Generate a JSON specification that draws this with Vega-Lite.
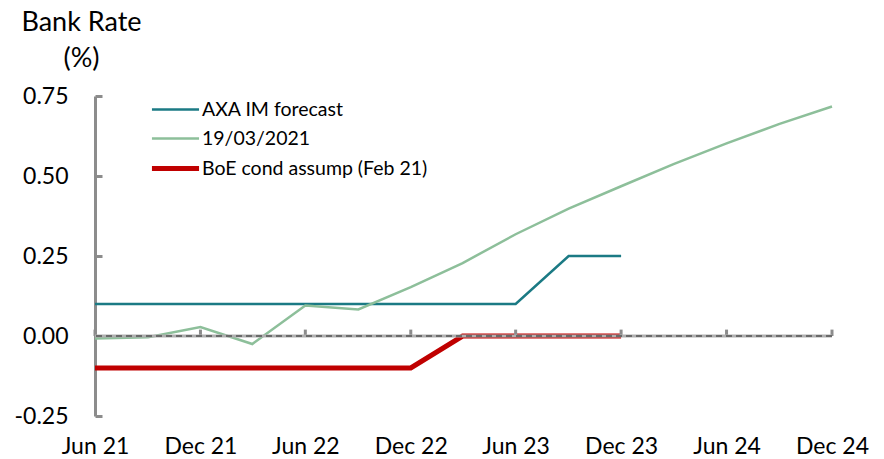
{
  "$schema": "https://vega.github.io/schema/vega-lite/v6.json",
  "width": 737,
  "height": 320,
  "autosize": "none",
  "padding": {"left": 95, "top": 96, "right": 52, "bottom": 43},
  "config": {"view": {"stroke": null}, "font": "Lato"},
  "datasets": {
    "series": [
      {"date": "2021-06-01", "series": "AXA IM forecast", "value": 0.10},
      {"date": "2021-09-01", "series": "AXA IM forecast", "value": 0.10},
      {"date": "2021-12-01", "series": "AXA IM forecast", "value": 0.10},
      {"date": "2022-03-01", "series": "AXA IM forecast", "value": 0.10},
      {"date": "2022-06-01", "series": "AXA IM forecast", "value": 0.10},
      {"date": "2022-09-01", "series": "AXA IM forecast", "value": 0.10},
      {"date": "2022-12-01", "series": "AXA IM forecast", "value": 0.10},
      {"date": "2023-03-01", "series": "AXA IM forecast", "value": 0.10},
      {"date": "2023-06-01", "series": "AXA IM forecast", "value": 0.10},
      {"date": "2023-09-01", "series": "AXA IM forecast", "value": 0.25},
      {"date": "2023-12-01", "series": "AXA IM forecast", "value": 0.25},
      {"date": "2021-06-01", "series": "19/03/2021", "value": -0.008},
      {"date": "2021-09-01", "series": "19/03/2021", "value": -0.004},
      {"date": "2021-12-01", "series": "19/03/2021", "value": 0.028},
      {"date": "2022-03-01", "series": "19/03/2021", "value": -0.025},
      {"date": "2022-06-01", "series": "19/03/2021", "value": 0.095},
      {"date": "2022-09-01", "series": "19/03/2021", "value": 0.083},
      {"date": "2022-12-01", "series": "19/03/2021", "value": 0.153},
      {"date": "2023-03-01", "series": "19/03/2021", "value": 0.228},
      {"date": "2023-06-01", "series": "19/03/2021", "value": 0.318},
      {"date": "2023-09-01", "series": "19/03/2021", "value": 0.398},
      {"date": "2023-12-01", "series": "19/03/2021", "value": 0.468},
      {"date": "2024-03-01", "series": "19/03/2021", "value": 0.537},
      {"date": "2024-06-01", "series": "19/03/2021", "value": 0.602},
      {"date": "2024-09-01", "series": "19/03/2021", "value": 0.663},
      {"date": "2024-12-01", "series": "19/03/2021", "value": 0.717},
      {"date": "2021-06-01", "series": "BoE cond assump (Feb 21)", "value": -0.10},
      {"date": "2021-09-01", "series": "BoE cond assump (Feb 21)", "value": -0.10},
      {"date": "2021-12-01", "series": "BoE cond assump (Feb 21)", "value": -0.10},
      {"date": "2022-03-01", "series": "BoE cond assump (Feb 21)", "value": -0.10},
      {"date": "2022-06-01", "series": "BoE cond assump (Feb 21)", "value": -0.10},
      {"date": "2022-09-01", "series": "BoE cond assump (Feb 21)", "value": -0.10},
      {"date": "2022-12-01", "series": "BoE cond assump (Feb 21)", "value": -0.10},
      {"date": "2023-03-01", "series": "BoE cond assump (Feb 21)", "value": 0.0},
      {"date": "2023-06-01", "series": "BoE cond assump (Feb 21)", "value": 0.0},
      {"date": "2023-09-01", "series": "BoE cond assump (Feb 21)", "value": 0.0},
      {"date": "2023-12-01", "series": "BoE cond assump (Feb 21)", "value": 0.0}
    ],
    "ticks": [
      {"date": "2021-06-01"}, {"date": "2021-12-01"}, {"date": "2022-06-01"},
      {"date": "2022-12-01"}, {"date": "2023-06-01"}, {"date": "2023-12-01"},
      {"date": "2024-06-01"}, {"date": "2024-12-01"}
    ]
  },
  "layer": [
    {
      "data": {"name": "series"},
      "mark": {"type": "line", "strokeCap": "butt", "strokeJoin": "miter"},
      "encoding": {
        "x": {
          "field": "date", "type": "temporal",
          "scale": {"type": "utc", "domain": [{"year": 2021, "month": 6, "date": 1, "utc": true}, {"year": 2024, "month": 12, "date": 1, "utc": true}]},
          "axis": {
            "title": null, "grid": false, "domain": false, "ticks": false,
            "format": "%b %y", "labelFontSize": 23, "labelColor": "#000000", "labelPadding": 19,
            "labelFont": "Lato",
            "values": [
              {"year": 2021, "month": 6, "date": 1, "utc": true},
              {"year": 2021, "month": 12, "date": 1, "utc": true},
              {"year": 2022, "month": 6, "date": 1, "utc": true},
              {"year": 2022, "month": 12, "date": 1, "utc": true},
              {"year": 2023, "month": 6, "date": 1, "utc": true},
              {"year": 2023, "month": 12, "date": 1, "utc": true},
              {"year": 2024, "month": 6, "date": 1, "utc": true},
              {"year": 2024, "month": 12, "date": 1, "utc": true}
            ],
            "labelFlush": false, "labelOverlap": false
          }
        },
        "y": {
          "field": "value", "type": "quantitative",
          "scale": {"domain": [-0.25, 0.75], "nice": false, "zero": false},
          "axis": {
            "title": ["Bank Rate", "(%)"], "titleAngle": 0, "titleAlign": "center",
            "titleBaseline": "alphabetic", "titleX": -14, "titleY": -66,
            "titleFontSize": 27, "titleFontWeight": "normal", "titleColor": "#000000",
            "titleLineHeight": 36, "titleFont": "Lato",
            "values": [-0.25, 0, 0.25, 0.5, 0.75],
            "labelExpr": "replace(format(datum.value, '.2f'), '\u2212', '-')",
            "labelFontSize": 23, "labelColor": "#000000", "labelFont": "Lato",
            "labelPadding": 34, "grid": false,
            "domainColor": "#8c8c8c", "domainWidth": 3,
            "tickColor": "#8c8c8c", "tickWidth": 3, "tickSize": -7
          }
        },
        "color": {
          "field": "series", "type": "nominal",
          "scale": {"domain": ["AXA IM forecast", "19/03/2021", "BoE cond assump (Feb 21)"], "range": ["#1b7a84", "#8dbf9a", "#c00000"]},
          "legend": {
            "title": null, "orient": "none", "legendX": 63, "legendY": -3, "padding": 0,
            "symbolType": "M-1.57,0H1.57", "symbolSize": 900, "labelFontSize": 19.5, "labelFont": "Lato",
            "labelColor": "#000000", "rowPadding": 3, "labelOffset": 9, "labelLimit": 400
          }
        },
        "strokeWidth": {
          "field": "series", "type": "ordinal", "sort": ["AXA IM forecast", "19/03/2021", "BoE cond assump (Feb 21)"],
          "scale": {"type": "ordinal", "domain": ["AXA IM forecast", "19/03/2021", "BoE cond assump (Feb 21)"], "range": [2.5, 2.5, 5]},
          "legend": {
            "title": null, "orient": "none", "legendX": 63, "legendY": -3, "padding": 0,
            "symbolType": "M-1.57,0H1.57", "symbolSize": 900, "labelFontSize": 19.5, "labelFont": "Lato",
            "labelColor": "#000000", "rowPadding": 3, "labelOffset": 9, "labelLimit": 400
          }
        },
        "order": {"field": "date"}
      }
    },
    {
      "data": {"name": "ticks"},
      "mark": {"type": "rule", "color": "#8c8c8c", "strokeWidth": 3},
      "encoding": {
        "x": {"field": "date", "type": "temporal"},
        "y": {"datum": 0, "type": "quantitative"},
        "y2": {"datum": 0.02}
      }
    },
    {
      "data": {"values": [{}]},
      "mark": {"type": "rule", "color": "#b0b0b0", "strokeWidth": 3},
      "encoding": {"y": {"datum": 0, "type": "quantitative"}}
    },
    {
      "data": {"values": [{}]},
      "mark": {"type": "rule", "color": "#6a6a6a", "strokeWidth": 2, "strokeDash": [6, 4]},
      "encoding": {"y": {"datum": 0, "type": "quantitative"}}
    }
  ]
}
